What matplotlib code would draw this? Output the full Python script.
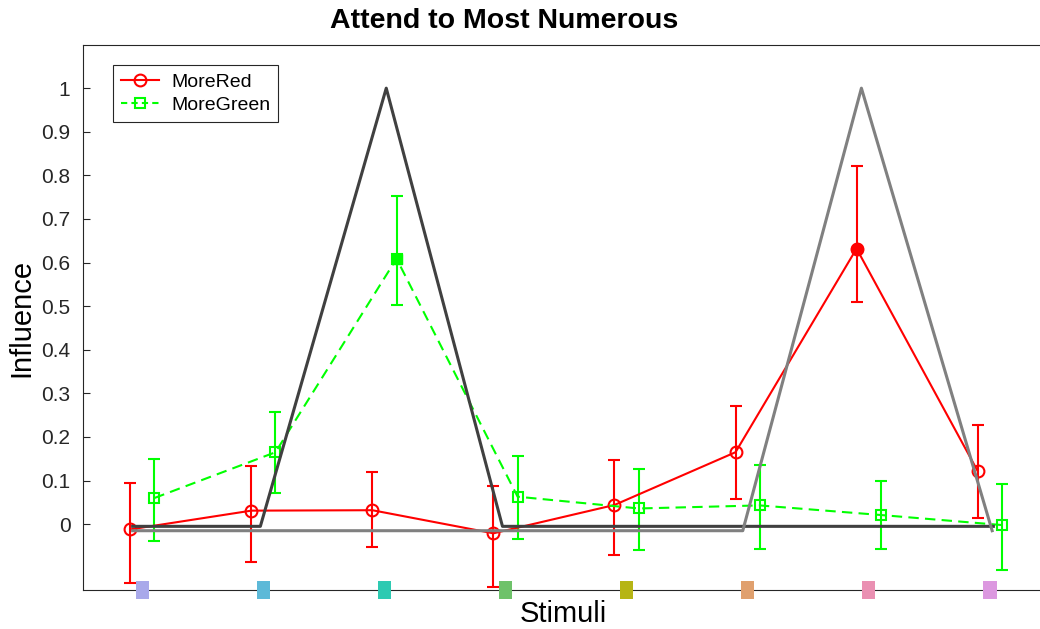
import numpy as np
import matplotlib.pyplot as plt
from matplotlib.lines import Line2D

plt.rcParams['font.family'] = ['Liberation Sans', 'DejaVu Sans']

# 刺激位置
stim = np.arange(1, 9)
stim_colors = ['#a9a9ea', '#5db9d8', '#2ecab2', '#6ec26a', '#b6b515', '#e0a06e', '#ea90b2', '#dc98e0']

# MoreRed 数据
red_y = [-0.012, 0.031, 0.032, -0.021, 0.044, 0.165, 0.632, 0.122]
red_lo = [0.124, 0.118, 0.084, 0.123, 0.115, 0.107, 0.122, 0.109]
red_hi = [0.107, 0.102, 0.088, 0.108, 0.104, 0.106, 0.189, 0.105]
red_sig = [False, False, False, False, False, False, True, False]

# MoreGreen 数据
green_y = [0.060, 0.165, 0.609, 0.063, 0.036, 0.043, 0.021, -0.002]
green_lo = [0.098, 0.093, 0.106, 0.098, 0.096, 0.100, 0.077, 0.104]
green_hi = [0.090, 0.093, 0.144, 0.094, 0.091, 0.093, 0.077, 0.095]
green_sig = [False, False, True, False, False, False, False, False]

# 模板线
dark_x = [0.92, 1.975, 3.015, 3.975, 8.03]
dark_y = [-0.005, -0.005, 1.0, -0.005, -0.005]
gray_x = [0.92, 5.96, 6.94, 8.02]
gray_y = [-0.015, -0.015, 1.0, -0.015]

fig = plt.figure(figsize=(10.4, 6.29), dpi=100)
ax = fig.add_axes([83/1040, 39/629, 960/1040, 545/629])

xr = stim - 0.1
xg = stim + 0.1

ax.errorbar(xr, red_y, yerr=[red_lo, red_hi], color='#ff0000', lw=1.5, marker='o',
            ms=8.5, mfc='none', mec='#ff0000', mew=1.5, capsize=4, elinewidth=1.5,
            capthick=1.5, zorder=3)
ax.errorbar(xg, green_y, yerr=[green_lo, green_hi], color='#00ff00', lw=1.5, ls='--',
            dashes=(5, 3), marker='s', ms=7, mfc='none', mec='#00ff00', mew=1.5,
            capsize=4, elinewidth=1.5, capthick=1.5, zorder=3)

rs = np.array(red_sig)
gs = np.array(green_sig)
ax.plot(xr[rs], np.array(red_y)[rs], 'o', color='#ff0000', ms=8.5, zorder=4)
ax.plot(xg[gs], np.array(green_y)[gs], 's', color='#00ff00', ms=7, zorder=4)

ax.plot(dark_x, dark_y, color='#404040', lw=2.2, zorder=5)
ax.plot(gray_x, gray_y, color='#808080', lw=2.2, zorder=5)

ax.set_xlim(0.51, 8.44)
ax.set_ylim(-0.151, 1.099)

# 底部彩色方块
rect = [(-0.8, -1), (0.8, -1), (0.8, 1), (-0.8, 1), (-0.8, -1)]
ax.scatter(stim, np.full(8, -0.151), marker=rect, s=150, c=stim_colors,
           clip_on=False, zorder=6, linewidths=0)

ax.set_xticks([])
ax.set_yticks(np.arange(0, 1.01, 0.1))
ax.set_yticklabels(['0', '0.1', '0.2', '0.3', '0.4', '0.5', '0.6', '0.7', '0.8', '0.9', '1'])
ax.tick_params(axis='y', direction='in', length=5, labelsize=15, color='#262626',
               labelcolor='#262626', pad=9)
for s in ax.spines.values():
    s.set_color('#262626')
    s.set_linewidth(0.8)

ax.set_title('Attend to Most Numerous', fontsize=20.5, fontweight='bold', pad=12,
             x=0.4385)
ax.set_ylabel('Influence', fontsize=21, labelpad=4)
ax.set_xlabel('Stimuli', fontsize=21, labelpad=7)

handles = [
    Line2D([], [], color='#ff0000', lw=1.5, marker='o', ms=8.5, mfc='none', mew=1.5),
    Line2D([], [], color='#00ff00', lw=1.5, ls='--', dashes=(3, 2), marker='s', ms=7,
           mfc='none', mew=1.5),
]
leg = ax.legend(handles, ['MoreRed', 'MoreGreen'], loc='upper left',
                bbox_to_anchor=(0.031, 0.963), fontsize=14, fancybox=False,
                edgecolor='#262626', framealpha=1, handlelength=2.0,
                borderaxespad=0, borderpad=0.4, labelspacing=0.3, handletextpad=0.6)
leg.get_frame().set_linewidth(0.8)

fig.savefig('out.png', dpi=100)
